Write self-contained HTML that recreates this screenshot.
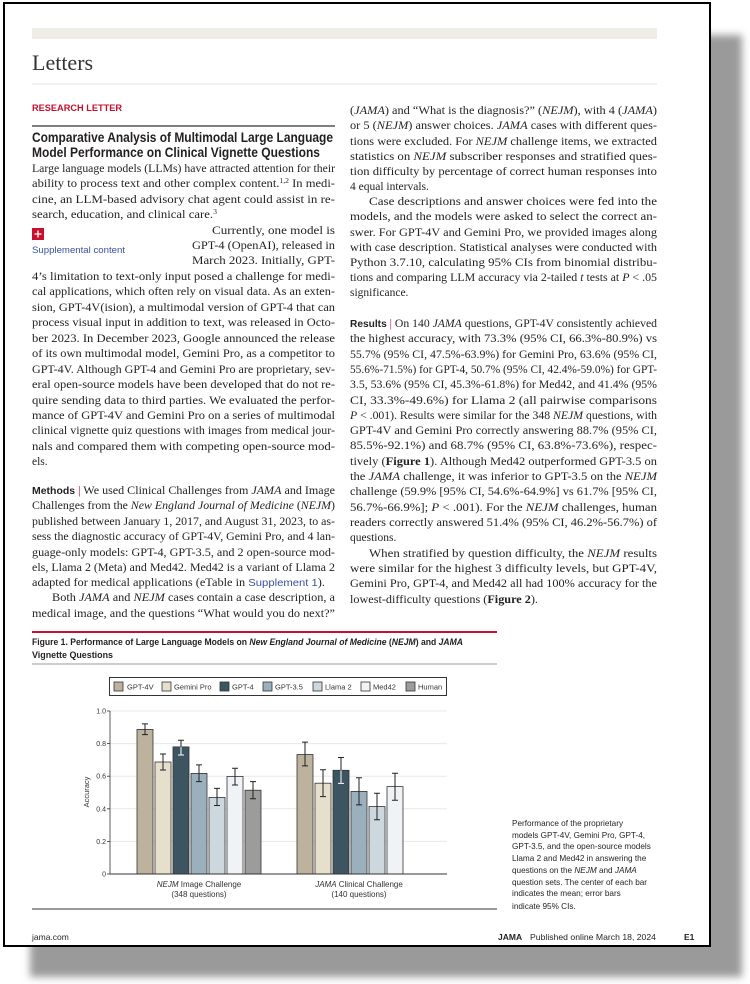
<!DOCTYPE html>
<html><head><meta charset="utf-8"><style>
html,body{margin:0;padding:0;background:#fff;width:750px;height:984px;overflow:hidden}
svg{display:block}
.s{font-family:"Liberation Serif",serif;font-size:11.5px;fill:#231f20}
.a{font-family:"Liberation Sans",sans-serif}
.i{font-style:italic}
.b{font-weight:bold}
</style></head><body>
<svg width="750" height="984" viewBox="0 0 750 984" xmlns="http://www.w3.org/2000/svg">
<defs><filter id="bl" x="-10%" y="-10%" width="120%" height="120%"><feGaussianBlur stdDeviation="4"/></filter></defs>
<rect x="30" y="35" width="712" height="942" fill="#9a9a9a" filter="url(#bl)"/>
<rect x="4" y="3" width="706" height="943" fill="#fff" stroke="#000" stroke-width="2"/>
<rect x="32" y="28" width="625" height="11" fill="#eeeee6"/>
<text x="32" y="70" style="font-family:'Liberation Serif',serif;font-size:22px;fill:#333">Letters</text>
<line x1="32" y1="84" x2="657" y2="84" stroke="#e6e6de" stroke-width="1"/>
<text x="32" y="111" class="a b" style="font-size:9.5px;fill:#c8102e" textLength="90" lengthAdjust="spacingAndGlyphs">RESEARCH LETTER</text>
<line x1="32" y1="126" x2="335" y2="126" stroke="#333" stroke-width="1.2"/>
<g class="a b" style="font-size:13.5px;fill:#231f20">
<text x="32" y="142" textLength="301" lengthAdjust="spacingAndGlyphs">Comparative Analysis of Multimodal Large Language</text>
<text x="32" y="157" textLength="288" lengthAdjust="spacingAndGlyphs">Model Performance on Clinical Vignette Questions</text>
</g>
<g class="s">
<text x="32" y="172" textLength="303" lengthAdjust="spacingAndGlyphs">Large language models (LLMs) have attracted attention for their</text>
<text x="32" y="187" textLength="303" lengthAdjust="spacingAndGlyphs">ability to process text and other complex content.<tspan dy="-4" style="font-size:7px">1,2</tspan><tspan dy="4"> In medi-</tspan></text>
<text x="32" y="203" textLength="303" lengthAdjust="spacingAndGlyphs">cine, an LLM-based advisory chat agent could assist in re-</text>
<text x="32" y="218" textLength="185" lengthAdjust="spacingAndGlyphs">search, education, and clinical care.<tspan dy="-4" style="font-size:7px">3</tspan></text>
<text x="212" y="234" textLength="123" lengthAdjust="spacingAndGlyphs">Currently, one model is</text>
<text x="192" y="249" textLength="143" lengthAdjust="spacingAndGlyphs">GPT-4 (OpenAI), released in</text>
<text x="192" y="264" textLength="143" lengthAdjust="spacingAndGlyphs">March 2023. Initially, GPT-</text>
<text x="32" y="280" textLength="303" lengthAdjust="spacingAndGlyphs">4’s limitation to text-only input posed a challenge for medi-</text>
<text x="32" y="295" textLength="303" lengthAdjust="spacingAndGlyphs">cal applications, which often rely on visual data. As an exten-</text>
<text x="32" y="311" textLength="303" lengthAdjust="spacingAndGlyphs">sion, GPT-4V(ision), a multimodal version of GPT-4 that can</text>
<text x="32" y="326" textLength="303" lengthAdjust="spacingAndGlyphs">process visual input in addition to text, was released in Octo-</text>
<text x="32" y="342" textLength="303" lengthAdjust="spacingAndGlyphs">ber 2023. In December 2023, Google announced the release</text>
<text x="32" y="357" textLength="303" lengthAdjust="spacingAndGlyphs">of its own multimodal model, Gemini Pro, as a competitor to</text>
<text x="32" y="373" textLength="303" lengthAdjust="spacingAndGlyphs">GPT-4V. Although GPT-4 and Gemini Pro are proprietary, sev-</text>
<text x="32" y="388" textLength="303" lengthAdjust="spacingAndGlyphs">eral open-source models have been developed that do not re-</text>
<text x="32" y="404" textLength="303" lengthAdjust="spacingAndGlyphs">quire sending data to third parties. We evaluated the perfor-</text>
<text x="32" y="419" textLength="303" lengthAdjust="spacingAndGlyphs">mance of GPT-4V and Gemini Pro on a series of multimodal</text>
<text x="32" y="434" textLength="303" lengthAdjust="spacingAndGlyphs">clinical vignette quiz questions with images from medical jour-</text>
<text x="32" y="450" textLength="303" lengthAdjust="spacingAndGlyphs">nals and compared them with competing open-source mod-</text>
<text x="32" y="465">els.</text>
<text x="32" y="494" textLength="303" lengthAdjust="spacingAndGlyphs"><tspan class="a b" style="font-size:10px">Methods</tspan><tspan style="fill:#c8102e"> | </tspan>We used Clinical Challenges from <tspan class="i">JAMA</tspan> and Image</text>
<text x="32" y="509" textLength="303" lengthAdjust="spacingAndGlyphs">Challenges from the <tspan class="i">New England Journal of Medicine</tspan> (<tspan class="i">NEJM</tspan>)</text>
<text x="32" y="525" textLength="303" lengthAdjust="spacingAndGlyphs">published between January 1, 2017, and August 31, 2023, to as-</text>
<text x="32" y="540" textLength="303" lengthAdjust="spacingAndGlyphs">sess the diagnostic accuracy of GPT-4V, Gemini Pro, and 4 lan-</text>
<text x="32" y="556" textLength="303" lengthAdjust="spacingAndGlyphs">guage-only models: GPT-4, GPT-3.5, and 2 open-source mod-</text>
<text x="32" y="571" textLength="303" lengthAdjust="spacingAndGlyphs">els, Llama 2 (Meta) and Med42. Med42 is a variant of Llama 2</text>
<text x="32" y="586" textLength="293" lengthAdjust="spacingAndGlyphs">adapted for medical applications (eTable in <tspan style="fill:#3a4fa0;font-size:10.5px" class="a">Supplement 1</tspan>).</text>
<text x="52" y="601" textLength="283" lengthAdjust="spacingAndGlyphs">Both <tspan class="i">JAMA</tspan> and <tspan class="i">NEJM</tspan> cases contain a case description, a</text>
<text x="32" y="617" textLength="303" lengthAdjust="spacingAndGlyphs">medical image, and the questions “What would you do next?”</text>
</g>
<rect x="32" y="228" width="12" height="12" fill="#c8102e"/>
<path d="M38 230.5v7M34.5 234h7" stroke="#fff" stroke-width="1.3"/>
<text x="32" y="253" class="a" style="font-size:9px;fill:#3a4fa0" textLength="93" lengthAdjust="spacingAndGlyphs">Supplemental content</text>

<g class="s">
<text x="350" y="114" textLength="307" lengthAdjust="spacingAndGlyphs">(<tspan class="i">JAMA</tspan>) and “What is the diagnosis?” (<tspan class="i">NEJM</tspan>), with 4 (<tspan class="i">JAMA</tspan>)</text>
<text x="350" y="129" textLength="307" lengthAdjust="spacingAndGlyphs">or 5 (<tspan class="i">NEJM</tspan>) answer choices. <tspan class="i">JAMA</tspan> cases with different ques-</text>
<text x="350" y="145" textLength="307" lengthAdjust="spacingAndGlyphs">tions were excluded. For <tspan class="i">NEJM</tspan> challenge items, we extracted</text>
<text x="350" y="160" textLength="307" lengthAdjust="spacingAndGlyphs">statistics on <tspan class="i">NEJM</tspan> subscriber responses and stratified ques-</text>
<text x="350" y="175" textLength="307" lengthAdjust="spacingAndGlyphs">tion difficulty by percentage of correct human responses into</text>
<text x="350" y="190">4 equal intervals.</text>
<text x="369" y="205" textLength="288" lengthAdjust="spacingAndGlyphs">Case descriptions and answer choices were fed into the</text>
<text x="350" y="220" textLength="307" lengthAdjust="spacingAndGlyphs">models, and the models were asked to select the correct an-</text>
<text x="350" y="236" textLength="307" lengthAdjust="spacingAndGlyphs">swer. For GPT-4V and Gemini Pro, we provided images along</text>
<text x="350" y="251" textLength="307" lengthAdjust="spacingAndGlyphs">with case description. Statistical analyses were conducted with</text>
<text x="350" y="266" textLength="307" lengthAdjust="spacingAndGlyphs">Python 3.7.10, calculating 95% CIs from binomial distribu-</text>
<text x="350" y="281" textLength="307" lengthAdjust="spacingAndGlyphs">tions and comparing LLM accuracy via 2-tailed <tspan class="i">t</tspan> tests at <tspan class="i">P</tspan> &lt; .05</text>
<text x="350" y="296">significance.</text>

<text x="350" y="327" textLength="307" lengthAdjust="spacingAndGlyphs"><tspan class="a b" style="font-size:10px">Results</tspan><tspan style="fill:#c8102e"> | </tspan>On 140 <tspan class="i">JAMA</tspan> questions, GPT-4V consistently achieved</text>
<text x="350" y="342" textLength="307" lengthAdjust="spacingAndGlyphs">the highest accuracy, with 73.3% (95% CI, 66.3%-80.9%) vs</text>
<text x="350" y="358" textLength="307" lengthAdjust="spacingAndGlyphs">55.7% (95% CI, 47.5%-63.9%) for Gemini Pro, 63.6% (95% CI,</text>
<text x="350" y="373" textLength="307" lengthAdjust="spacingAndGlyphs">55.6%-71.5%) for GPT-4, 50.7% (95% CI, 42.4%-59.0%) for GPT-</text>
<text x="350" y="388" textLength="307" lengthAdjust="spacingAndGlyphs">3.5, 53.6% (95% CI, 45.3%-61.8%) for Med42, and 41.4% (95%</text>
<text x="350" y="404" textLength="307" lengthAdjust="spacingAndGlyphs">CI, 33.3%-49.6%) for Llama 2 (all pairwise comparisons</text>
<text x="350" y="419" textLength="307" lengthAdjust="spacingAndGlyphs"><tspan class="i">P</tspan> &lt; .001). Results were similar for the 348 <tspan class="i">NEJM</tspan> questions, with</text>
<text x="350" y="434" textLength="307" lengthAdjust="spacingAndGlyphs">GPT-4V and Gemini Pro correctly answering 88.7% (95% CI,</text>
<text x="350" y="449" textLength="307" lengthAdjust="spacingAndGlyphs">85.5%-92.1%) and 68.7% (95% CI, 63.8%-73.6%), respec-</text>
<text x="350" y="465" textLength="307" lengthAdjust="spacingAndGlyphs">tively (<tspan class="b">Figure 1</tspan>). Although Med42 outperformed GPT-3.5 on</text>
<text x="350" y="480" textLength="307" lengthAdjust="spacingAndGlyphs">the <tspan class="i">JAMA</tspan> challenge, it was inferior to GPT-3.5 on the <tspan class="i">NEJM</tspan></text>
<text x="350" y="495" textLength="307" lengthAdjust="spacingAndGlyphs">challenge (59.9% [95% CI, 54.6%-64.9%] vs 61.7% [95% CI,</text>
<text x="350" y="511" textLength="307" lengthAdjust="spacingAndGlyphs">56.7%-66.9%]; <tspan class="i">P</tspan> &lt; .001). For the <tspan class="i">NEJM</tspan> challenges, human</text>
<text x="350" y="526" textLength="307" lengthAdjust="spacingAndGlyphs">readers correctly answered 51.4% (95% CI, 46.2%-56.7%) of</text>
<text x="350" y="541">questions.</text>
<text x="369" y="557" textLength="288" lengthAdjust="spacingAndGlyphs">When stratified by question difficulty, the <tspan class="i">NEJM</tspan> results</text>
<text x="350" y="572" textLength="307" lengthAdjust="spacingAndGlyphs">were similar for the highest 3 difficulty levels, but GPT-4V,</text>
<text x="350" y="587" textLength="307" lengthAdjust="spacingAndGlyphs">Gemini Pro, GPT-4, and Med42 all had 100% accuracy for the</text>
<text x="350" y="603" textLength="188" lengthAdjust="spacingAndGlyphs">lowest-difficulty questions (<tspan class="b">Figure 2</tspan>).</text>
</g>

<line x1="32" y1="632" x2="497" y2="632" stroke="#c8102e" stroke-width="2"/>
<g class="a b" style="font-size:9.5px;fill:#231f20">
<text x="32" y="645" textLength="431" lengthAdjust="spacingAndGlyphs">Figure 1. Performance of Large Language Models on <tspan class="i">New England Journal of Medicine</tspan> (<tspan class="i">NEJM</tspan>) and <tspan class="i">JAMA</tspan></text>
<text x="32" y="658" textLength="81" lengthAdjust="spacingAndGlyphs">Vignette Questions</text>
</g>
<line x1="32" y1="664" x2="497" y2="664" stroke="#999" stroke-width="1"/>
<rect x="109.5" y="677.5" width="337" height="18" fill="#fff" stroke="#333" stroke-width="1"/>
<g stroke="#333" stroke-width="0.8">
<rect x="114" y="682" width="9" height="9" fill="#bdb29e"/>
<rect x="162" y="682" width="9" height="9" fill="#e6dfcc"/>
<rect x="220" y="682" width="9" height="9" fill="#3c5561"/>
<rect x="263" y="682" width="9" height="9" fill="#9bb0bd"/>
<rect x="313" y="682" width="9" height="9" fill="#ccd8de"/>
<rect x="361" y="682" width="9" height="9" fill="#f0f3f5"/>
<rect x="406" y="682" width="9" height="9" fill="#9c9c9c"/>
</g>
<g class="a" style="font-size:7.5px;fill:#333">
<text x="127" y="689.5">GPT-4V</text>
<text x="174" y="689.5">Gemini Pro</text>
<text x="232" y="689.5">GPT-4</text>
<text x="275" y="689.5">GPT-3.5</text>
<text x="325" y="689.5">Llama 2</text>
<text x="373" y="689.5">Med42</text>
<text x="418" y="689.5">Human</text>
</g>
<g stroke="#e8e8e8" stroke-width="1">
<line x1="110" y1="711" x2="447" y2="711"/>
<line x1="110" y1="743.6" x2="447" y2="743.6"/>
<line x1="110" y1="776.2" x2="447" y2="776.2"/>
<line x1="110" y1="808.8" x2="447" y2="808.8"/>
<line x1="110" y1="841.4" x2="447" y2="841.4"/>
</g>
<g stroke="#333" stroke-width="0.8">
<line x1="110" y1="711" x2="110" y2="874"/>
<line x1="107" y1="711" x2="110" y2="711"/><line x1="107" y1="743.6" x2="110" y2="743.6"/><line x1="107" y1="776.2" x2="110" y2="776.2"/><line x1="107" y1="808.8" x2="110" y2="808.8"/><line x1="107" y1="841.4" x2="110" y2="841.4"/><line x1="107" y1="874" x2="110" y2="874"/>
</g>
<g class="a" style="font-size:7px;fill:#333" text-anchor="end">
<text x="106" y="713.5">1.0</text><text x="106" y="746">0.8</text><text x="106" y="778.7">0.6</text><text x="106" y="811.3">0.4</text><text x="106" y="844">0.2</text><text x="106" y="876.5">0</text>
</g>
<text transform="translate(89,792) rotate(-90)" class="a" style="font-size:7.5px;fill:#333" text-anchor="middle">Accuracy</text>
<g stroke="#333" stroke-width="0.8">
<rect x="137" y="729.4" width="16" height="144.6" fill="#bdb29e"/>
<rect x="155" y="762" width="16" height="112" fill="#e6dfcc"/>
<rect x="173" y="746.9" width="16" height="127.1" fill="#3c5561"/>
<rect x="191" y="773.4" width="16" height="100.6" fill="#9bb0bd"/>
<rect x="209" y="797.4" width="16" height="76.6" fill="#ccd8de"/>
<rect x="227" y="776.4" width="16" height="97.6" fill="#f0f3f5"/>
<rect x="245" y="790.2" width="16" height="83.8" fill="#9c9c9c"/>
<rect x="297" y="754.5" width="16" height="119.5" fill="#bdb29e"/>
<rect x="315" y="783.2" width="16" height="90.8" fill="#e6dfcc"/>
<rect x="333" y="770.3" width="16" height="103.7" fill="#3c5561"/>
<rect x="351" y="791.4" width="16" height="82.6" fill="#9bb0bd"/>
<rect x="369" y="806.5" width="16" height="67.5" fill="#ccd8de"/>
<rect x="387" y="786.6" width="16" height="87.4" fill="#f0f3f5"/>
</g>
<g stroke="#222" stroke-width="1" fill="none">
<path d="M145 723.9V734.6M142 723.9h6M142 734.6h6"/>
<path d="M163 754V770M160 754h6M160 770h6"/>
<path d="M199 764.9V781.6M196 764.9h6M196 781.6h6"/>
<path d="M217 788.4V805.5M214 788.4h6M214 805.5h6"/>
<path d="M235 768.2V785M232 768.2h6M232 785h6"/>
<path d="M253 781.6V798.7M250 781.6h6M250 798.7h6"/>
<path d="M305 742.1V765.9M302 742.1h6M302 765.9h6"/>
<path d="M323 769.8V796.6M320 769.8h6M320 796.6h6"/>
<path d="M341 757.5V770.3M338 757.5h6"/>
<path d="M359 777.8V804.9M356 777.8h6M356 804.9h6"/>
<path d="M377 793.2V819.7M374 793.2h6M374 819.7h6"/>
<path d="M395 773.3V800.2M392 773.3h6M392 800.2h6"/>
<path d="M181 740.3V746.9M178 740.3h6"/>
</g>
<g stroke="#fff" stroke-width="1" fill="none">
<path d="M181 746.9V755M178 755h6"/>
<path d="M341 770.3V783.4M338 783.4h6"/>
</g>
<line x1="110" y1="874" x2="447" y2="874" stroke="#333" stroke-width="1"/>
<g class="a" style="font-size:8px;fill:#333" text-anchor="middle">
<text x="199" y="887"><tspan class="i">NEJM</tspan> Image Challenge</text>
<text x="199" y="897">(348 questions)</text>
<text x="359" y="887"><tspan class="i">JAMA</tspan> Clinical Challenge</text>
<text x="359" y="897">(140 questions)</text>
</g>
<line x1="32" y1="909" x2="497" y2="909" stroke="#333" stroke-width="1"/>
<g class="a" style="font-size:8.2px;fill:#231f20">
<text x="512" y="826">Performance of the proprietary</text>
<text x="512" y="838">models GPT-4V, Gemini Pro, GPT-4,</text>
<text x="512" y="849">GPT-3.5, and the open-source models</text>
<text x="512" y="861">Llama 2 and Med42 in answering the</text>
<text x="512" y="873">questions on the <tspan class="i">NEJM</tspan> and <tspan class="i">JAMA</tspan></text>
<text x="512" y="885">question sets. The center of each bar</text>
<text x="512" y="896">indicates the mean; error bars</text>
<text x="512" y="909">indicate 95% CIs.</text>
</g>
<g class="a" style="font-size:8.5px;fill:#231f20">
<text x="32" y="940">jama.com</text>
<text x="498" y="940" class="b">JAMA</text>
<text x="530" y="940" textLength="126" lengthAdjust="spacingAndGlyphs">Published online March 18, 2024</text>
<text x="684" y="940" class="b">E1</text>
</g>
</svg>
</body></html>
